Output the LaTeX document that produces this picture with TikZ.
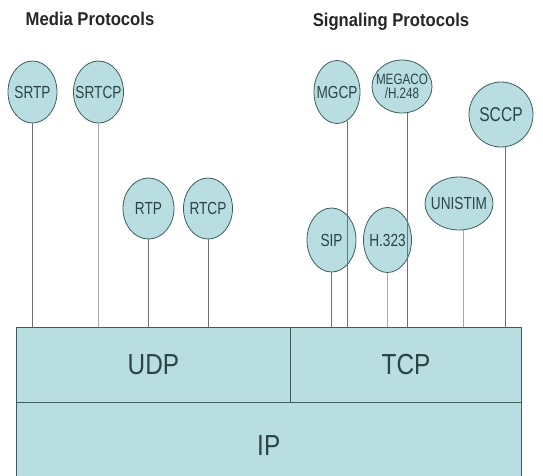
\documentclass[tikz,border=0pt]{standalone}
\usepackage{fontspec}
\setmainfont{Liberation Sans}
\newfontfamily\nar[FakeStretch=0.78]{Liberation Sans}
\newfontfamily\cellfont[FakeStretch=0.84]{Liberation Sans}
\newfontfamily\ttlfont[FakeStretch=0.9]{Liberation Sans}
\usetikzlibrary{shapes.geometric}
\definecolor{cellfill}{HTML}{B9DEE1}
\definecolor{edge}{HTML}{3F5C5E}
\definecolor{ink}{HTML}{2B4446}
\definecolor{stem}{HTML}{6E7272}
\definecolor{stemlight}{HTML}{A8ABAB}
\begin{document}
\begin{tikzpicture}[x=1pt,y=-1pt,
  proto/.style={ellipse,draw=edge,line width=0.8pt,fill=cellfill,inner sep=0pt,
    text=ink,font=\nar\fontsize{17.5}{18}\selectfont},
  cell/.style={rectangle,draw=edge,line width=0.8pt,fill=cellfill,inner sep=0pt,
    anchor=north west,text=ink,font=\cellfont\fontsize{29}{30}\selectfont},
  title/.style={font=\ttlfont\bfseries\fontsize{18.5}{19}\selectfont,text=black!85,anchor=base},
  stemline/.style={draw=stem,line width=0.9pt},
  stemlite/.style={draw=stemlight,line width=0.9pt}]
\useasboundingbox (0,0) rectangle (543,475);
\clip (0,0) rectangle (543,475);
% layer boxes
\node[cell,minimum width=505.3pt,minimum height=86.3pt] (ip) at (15.7,401.7) {IP};
\node[cell,minimum width=274.6pt,minimum height=75pt] (udp) at (15.7,326.7) {UDP};
\node[cell,minimum width=230.7pt,minimum height=75pt] (tcp) at (290.3,326.7) {TCP};
% titles
\node[title] (media) at (90,25.5) {Media Protocols};
\node[title] (sig) at (391,26) {Signaling Protocols};
% protocol ellipses
\node[proto,minimum width=49pt,minimum height=62pt] (srtp) at (32.5,92) {\makebox[0pt]{SRTP}};
\node[proto,minimum width=50pt,minimum height=62pt] (srtcp) at (98.5,92) {\makebox[0pt]{SRTCP}};
\node[proto,minimum width=51pt,minimum height=61pt] (rtp) at (148.5,208.5) {\makebox[0pt]{RTP}};
\node[proto,minimum width=49pt,minimum height=61pt] (rtcp) at (208,208.5) {\makebox[0pt]{RTCP}};
\node[proto,minimum width=46pt,minimum height=63pt] (mgcp) at (337,92) {\makebox[0pt]{MGCP}};
\node[proto,minimum width=60pt,minimum height=53pt,font=\nar\fontsize{15}{16}\selectfont] (megaco) at (402,86.5) {\makebox[0pt]{\shortstack{MEGACO\\/H.248}}};
\node[proto,minimum width=64pt,minimum height=65pt,font=\nar\fontsize{20}{21}\selectfont] (sccp) at (501,114.5) {\makebox[0pt]{SCCP}};
\node[proto,minimum width=68pt,minimum height=53pt] (unistim) at (459,203.5) {\makebox[0pt]{UNISTIM}};
\node[proto,minimum width=49pt,minimum height=64pt] (sip) at (331.5,240) {\makebox[0pt]{SIP}};
\node[proto,minimum width=48pt,minimum height=65pt] (h323) at (387.5,240) {\makebox[0pt]{H.323}};
% stems
\draw[stemline] (srtp.south) -- (srtp.south |- udp.north);
\draw[stemlite] (srtcp.south) -- (srtcp.south |- udp.north);
\draw[stemline] (rtp.south) -- (rtp.south |- udp.north);
\draw[stemline] (rtcp.south) -- (rtcp.south |- udp.north);
\draw[stemline] (sip.south) -- (sip.south |- tcp.north);
\draw[stemline] (mgcp.-70) -- (mgcp.-70 |- tcp.north);
\draw[stemlite] (h323.south) -- (h323.south |- tcp.north);
\draw[stemline] (megaco.-78) -- (megaco.-78 |- tcp.north);
\draw[stemlite] (unistim.-80) -- (unistim.-80 |- tcp.north);
\draw[stemline] (sccp.-83) -- (sccp.-83 |- tcp.north);
\end{tikzpicture}
\end{document}
